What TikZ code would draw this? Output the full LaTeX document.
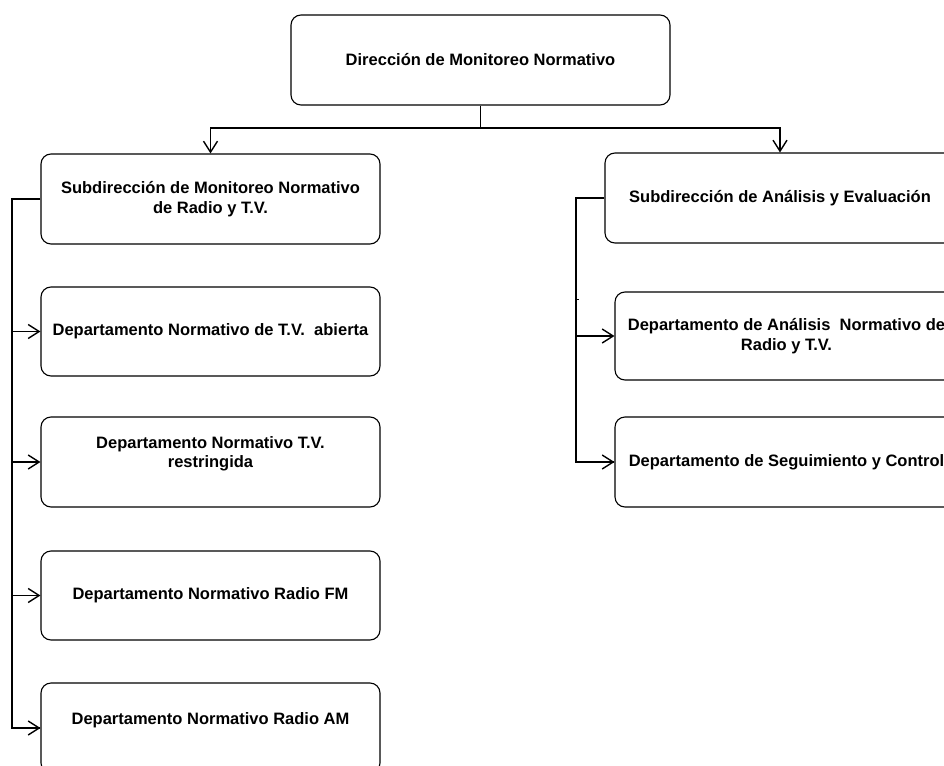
\documentclass[tikz,border=0pt]{standalone}
\usepackage{fontspec}
\setmainfont{Liberation Sans}
\usetikzlibrary{arrows.meta}
\frenchspacing
\begin{document}
\begin{tikzpicture}[x=1pt,y=-1pt,
  box/.style={draw=black, line width=1.1pt, rounded corners=10pt, inner sep=0pt,
    align=center, font=\fontsize{16.5}{19.5}\selectfont\bfseries},
  conn/.style={draw=black, line width=1.6pt},
  arr/.style={conn, -{Straight Barb[length=11pt,width=14pt,line width=1.4pt]}}]
\useasboundingbox (0,0) rectangle (944,765);
\clip (0,0) rectangle (944,765);
\fill[white] (0,0) rectangle (944,765);

% boxes
\node[box, minimum width=379pt, minimum height=90pt] (top) at (480.5,60) {Dirección de Monitoreo Normativo};
\node[box, minimum width=339pt, minimum height=90pt] (subL) at (210.5,199) {Subdirección de Monitoreo Normativo\\de Radio y T.V.};
\node[box, minimum width=339pt, minimum height=89pt] (d1) at (210.5,331.5) {Departamento Normativo de T.V.\ \ abierta};
\node[box, minimum width=339pt, minimum height=90pt] (d2) at (210.5,462) {Departamento Normativo T.V.\\restringida\\\mbox{}};
\node[box, minimum width=339pt, minimum height=89pt] (d3) at (210.5,595.5) {Departamento Normativo Radio FM};
\node[box, minimum width=339pt, minimum height=90pt] (d4) at (210.5,728) {Departamento Normativo Radio AM\\\mbox{}};
\node[box, minimum width=350pt, minimum height=90pt] (subR) at (780,198) {Subdirección de Análisis y Evaluación};
\node[box, minimum width=343pt, minimum height=88pt] (r1) at (786.5,336) {Departamento de Análisis\ \ Normativo de\\Radio y T.V.};
\node[box, minimum width=343pt, minimum height=90pt] (r2) at (786.5,462) {Departamento de Seguimiento y Control};

% top connectors
\coordinate (bus) at (480.5,128);
\draw[conn] (top.south) -- (bus);
\draw[arr] (bus) -| (subL.north);
\draw[arr] (bus) -| (subR.north);

% left branch
\coordinate (lL) at (12,199);
\draw[conn] (subL.west) -- (lL) |- (d4.west);
\draw[arr] (lL |- d1.west) -- (d1.west);
\draw[arr] (lL |- d2.west) -- (d2.west);
\draw[arr] (lL |- d3.west) -- (d3.west);
\draw[arr] (lL |- d4.west) -- (d4.west);

% right branch
\coordinate (lR) at (576,198);
\coordinate (tick) at (579,299);
\draw[conn] (subR.west) -- (lR) |- (r2.west);
\draw[line width=1pt] (lR |- tick) -- (tick);
\draw[arr] (lR |- r1.west) -- (r1.west);
\draw[arr] (lR |- r2.west) -- (r2.west);
\end{tikzpicture}
\end{document}
